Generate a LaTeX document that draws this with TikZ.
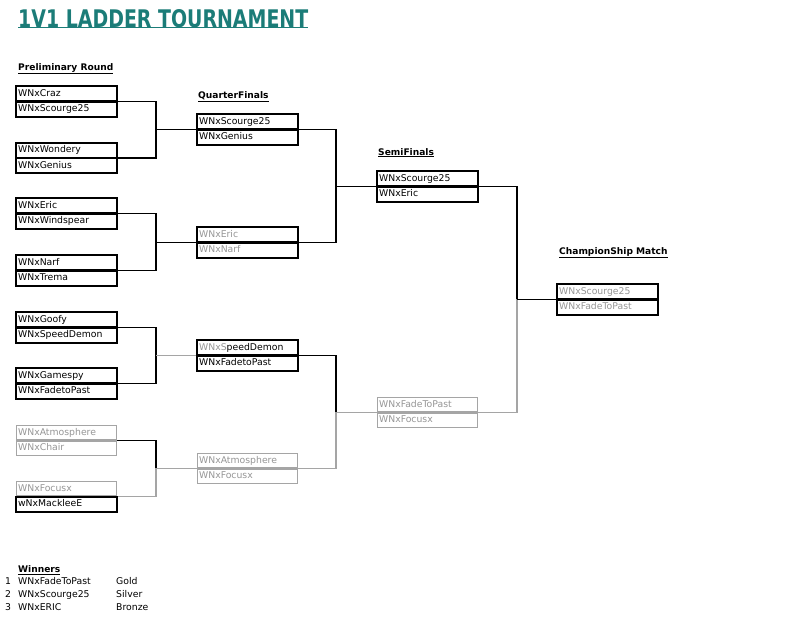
\documentclass[tikz,border=0pt]{standalone}
\usepackage{fontspec}
\setmainfont{DejaVu Sans}
\usepackage{graphicx}
\usetikzlibrary{calc}
\definecolor{teal1}{RGB}{27,124,120}
\definecolor{lose}{RGB}{150,150,150}
\definecolor{lgray}{RGB}{165,165,165}
\begin{document}
\begin{tikzpicture}[x=1pt,y=-1pt,
  row/.style={draw=black, line width=1.2pt, minimum width=100pt, minimum height=14.25pt,
    inner xsep=1.5pt, inner ysep=0pt, text width=97pt, text height=7pt, text depth=2pt,
    align=left, anchor=north west, font=\fontsize{9.3}{10}\selectfont},
  grayrow/.style={row, draw=lgray, text=lose},
  graytext/.style={row, text=lose},
  head/.style={anchor=base west, inner sep=0pt, font=\fontsize{9.1}{10}\selectfont\bfseries},
  plain/.style={anchor=base west, inner sep=0pt, font=\fontsize{9.3}{10}\selectfont},
  link/.style={line width=1.3pt, draw=black},
  glink/.style={line width=1.3pt, draw=lgray}]
\useasboundingbox (0,0) rectangle (800,632);
\fill[white] (0,0) rectangle (800,632);

% title
\node[anchor=base west, inner sep=0pt, text=teal1] (title) at (18,27)
  {\resizebox{290pt}{18pt}{\bfseries 1V1 LADDER TOURNAMENT}};
\draw[teal1, line width=0.8pt] (title.base west) ++(0,0.8) coordinate (tl) -- (tl -| title.base east);

% headers
\node[head] (hpre) at (18,70) {\underline{Preliminary Round}};
\node[head] (hqf) at (198,98) {\underline{QuarterFinals}};
\node[head] (hsf) at (378,155) {\underline{SemiFinals}};
\node[head] (hch) at (559,254) {\underline{ChampionShip Match}};

% preliminary round
\node[row] (p1a) at (16,86) {WNxCraz};
\node[row] (p1b) at (p1a.south west) {WNxScourge25};
\node[row] (p2a) at (16,142.5) {WNxWondery};
\node[row] (p2b) at (p2a.south west) {WNxGenius};
\node[row] (p3a) at (16,198) {WNxEric};
\node[row] (p3b) at (p3a.south west) {WNxWindspear};
\node[row] (p4a) at (16,255) {WNxNarf};
\node[row] (p4b) at (p4a.south west) {WNxTrema};
\node[row] (p5a) at (16,312) {WNxGoofy};
\node[row] (p5b) at (p5a.south west) {WNxSpeedDemon};
\node[row] (p6a) at (16,368) {WNxGamespy};
\node[row] (p6b) at (p6a.south west) {WNxFadetoPast};
\node[grayrow] (p7a) at (16,425) {WNxAtmosphere};
\node[grayrow] (p7b) at (p7a.south west) {WNxChair};
\node[grayrow] (p8a) at (16,481) {WNxFocusx};
\node[row] (p8b) at (p8a.south west) {wNxMackleeE};

% quarter finals
\node[row] (q1a) at (197,114) {WNxScourge25};
\node[row] (q1b) at (q1a.south west) {WNxGenius};
\node[graytext] (q2a) at (197,227) {WNxEric};
\node[graytext] (q2b) at (q2a.south west) {WNxNarf};
\node[row] (q3a) at (197,340) {{\color{lose}WNxS}peedDemon};
\node[row] (q3b) at (q3a.south west) {WNxFadetoPast};
\node[grayrow] (q4a) at (197,453) {WNxAtmosphere};
\node[grayrow] (q4b) at (q4a.south west) {WNxFocusx};

% semi finals
\node[row] (s1a) at (377,171) {WNxScourge25};
\node[row] (s1b) at (s1a.south west) {WNxEric};
\node[grayrow] (s2a) at (377,397) {WNxFadeToPast};
\node[grayrow] (s2b) at (s2a.south west) {WNxFocusx};

% championship
\node[graytext] (c1a) at (557,284) {WNxScourge25};
\node[graytext] (c1b) at (c1a.south west) {WNxFadeToPast};

% junctions
\coordinate (j1) at ($(q1a.south west)+(-41,0)$);
\coordinate (j2) at ($(q2a.south west)+(-41,0)$);
\coordinate (j3) at ($(q3a.south west)+(-41,0)$);
\coordinate (j4) at ($(q4a.south west)+(-41,0)$);
\coordinate (k1) at ($(s1a.south west)+(-41,0)$);
\coordinate (k2) at ($(s2a.south west)+(-41,0)$);
\coordinate (m1) at ($(c1a.south west)+(-40,0)$);

% prelim -> QF
\draw[link] (p1a.south east) -| (j1) |- (p2a.south east);
\draw[link] (j1) -- (q1a.south west);
\draw[link] (p3a.south east) -| (j2) |- (p4a.south east);
\draw[link] (j2) -- (q2a.south west);
\draw[link] (p5a.south east) -| (j3) |- (p6a.south east);
\draw[glink] (j3) -- (q3a.south west);
\draw[link] (p7a.south east) -| (j4);
\draw[glink] (j4) |- (p8a.south east);
\draw[glink] (j4) -- (q4a.south west);

% QF -> SF
\draw[link] (q1a.south east) -| (k1) |- (q2a.south east);
\draw[link] (k1) -- (s1a.south west);
\draw[link] (q3a.south east) -| (k2);
\draw[glink] (k2) |- (q4a.south east);
\draw[glink] (k2) -- (s2a.south west);

% SF -> final
\draw[link] (s1a.south east) -| (m1);
\draw[glink] (m1) |- (s2a.south east);
\draw[link] (m1) -- (c1a.south west);

% redraw boxes on top
\foreach \n in {p1a,p1b,p2a,p2b,p3a,p3b,p4a,p4b,p5a,p5b,p6a,p6b,p8b,q1a,q1b,q2a,q2b,q3a,q3b,s1a,s1b,c1a,c1b}
  \draw[line width=1.2pt] (\n.north west) rectangle (\n.south east);

% winners
\node[head] (hwin) at (18,572.5) {\underline{Winners}};
\node[plain] (n1) at (5,584.5) {1};
\node[plain] (w1) at (18,584.5) {WNxFadeToPast};
\node[plain] (m1t) at (116,584.5) {Gold};
\node[plain] (n2) at (5,597.5) {2};
\node[plain] (w2) at (18,597.5) {WNxScourge25};
\node[plain] (m2t) at (116,597.5) {Silver};
\node[plain] (n3) at (5,610.5) {3};
\node[plain] (w3) at (18,610.5) {WNxERIC};
\node[plain] (m3t) at (116,610.5) {Bronze};
\end{tikzpicture}
\end{document}
